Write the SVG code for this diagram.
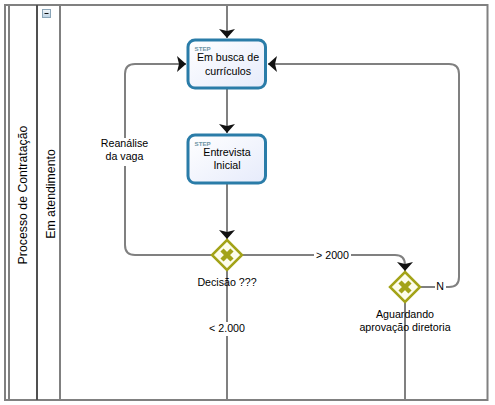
<svg xmlns="http://www.w3.org/2000/svg" width="495" height="405" viewBox="0 0 495 405">
<style>
.lane{fill:none;stroke:#808080;stroke-width:2}
.c{fill:none;stroke:#808080;stroke-width:2}
.task{fill:url(#tg);stroke:#2a7ca8;stroke-width:3}
.gw{fill:#fdfdec;stroke:#a3a318;stroke-width:2.500}
.x{fill:none;stroke:#a3a318;stroke-width:4.500}
text{font-family:"Liberation Sans",Arial,sans-serif;font-size:10.670px;fill:#000;text-anchor:middle}
.s{font-size:6.200px;font-weight:bold;fill:#6f95a5;text-anchor:start}
.v{font-size:12.300px}
.bg{fill:#fff}
</style>
<defs>
<linearGradient id="tg" x1="0" y1="0" x2="1" y2="1"><stop offset="0" stop-color="#fff"/><stop offset="1" stop-color="#e6ebfb"/></linearGradient>
<linearGradient id="mg" x1="0" y1="0" x2="0" y2="1"><stop offset="0" stop-color="#f4f8fb"/><stop offset="1" stop-color="#b9d0e2"/></linearGradient>
<marker id="a" markerUnits="userSpaceOnUse" markerWidth="10" markerHeight="18" refX="9" refY="8.500" orient="auto"><path d="M0 0.500L9 8.500L0 16.500L2 8.500Z" fill="#111"/></marker>
</defs>
<rect width="495" height="405" fill="#fff"/>
<g id="pool">
<rect class="lane" x="5" y="5" width="482.500" height="395"/>
<path class="lane" d="M9 5V400"/>
<path class="lane" d="M37 5V400" style="stroke:#505050"/>
<path class="lane" d="M60 5V400"/>
<text class="v" transform="translate(27,195) rotate(-90)">Processo de Contratação</text>
</g>
<g id="lane">
<text class="v" transform="translate(55,194) rotate(-90)">Em atendimento</text>
<rect x="42.500" y="9.500" width="8" height="8" fill="url(#mg)" stroke="#8aa5b8"/>
<path d="M44.500 13.500H48.500" stroke="#111" stroke-width="1"/>
</g>
<g id="connectors">
<path class="c" d="M227 5V38" marker-end="url(#a)"/>
<path class="c" d="M227 88V133" marker-end="url(#a)"/>
<path class="c" d="M227 183V239" marker-end="url(#a)"/>
<path class="c" d="M212 255H135Q125 255 125 245V74Q125 64 135 64H186" marker-end="url(#a)"/>
<path class="c" d="M242 255H395Q405 255 405 265V271" marker-end="url(#a)"/>
<path class="c" d="M421 287H449Q459 287 459 277V74Q459 64 449 64H268" marker-end="url(#a)"/>
<path class="c" d="M227 270V400"/>
<path class="c" d="M405 303V400"/>
<rect class="bg" x="100" y="138" width="50" height="28"/>
<rect class="bg" x="314" y="249" width="37" height="12"/>
<rect class="bg" x="435" y="281" width="11" height="12"/>
<rect class="bg" x="208" y="322" width="38" height="14"/>
<text x="124.500" y="147">Reanálise</text>
<text x="124.500" y="160">da vaga</text>
<text x="332.500" y="258.500">&gt; 2000</text>
<text x="440" y="290">N</text>
<text x="227" y="332">&lt; 2.000</text>
</g>
<g id="task1">
<rect class="task" x="188" y="40" width="77.500" height="48" rx="7"/>
<text class="s" x="194.500" y="50.500">STEP</text>
<text x="228" y="61">Em busca de</text>
<text x="228" y="74.500">currículos</text>
</g>
<g id="task2">
<rect class="task" x="188" y="135" width="77.500" height="48" rx="7"/>
<text class="s" x="194.500" y="145.500">STEP</text>
<text x="227" y="156">Entrevista</text>
<text x="227" y="169">Inicial</text>
</g>
<g id="gateway1">
<path class="gw" d="M227 240L242 255L227 270L212 255Z"/>
<path class="x" d="M222 250L232 260M232 250L222 260"/>
<text x="227" y="286">Decisão ???</text>
</g>
<g id="gateway2">
<path class="gw" d="M405 272L420 287L405 302L390 287Z"/>
<path class="x" d="M400 282L410 292M410 282L400 292"/>
<text x="405" y="318">Aguardando</text>
<text x="405" y="331">aprovação diretoria</text>
</g>
</svg>
